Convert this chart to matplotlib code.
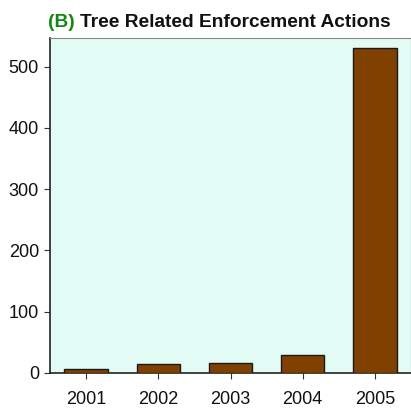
import matplotlib
matplotlib.use("Agg")
import matplotlib.pyplot as plt

years = ["2001", "2002", "2003", "2004", "2005"]
actions = [6.5, 15, 16, 30, 530]
yticks = [0, 100, 200, 300, 400, 500]

fig = plt.figure(figsize=(4.11, 4.12), dpi=100)
ax = fig.add_axes([0.1217, 0.0947, 0.8783, 0.8133])
ax.set_facecolor("#E2FCF5")
x = list(range(len(years)))
ax.bar(x, actions, width=0.6, color="#804000", edgecolor="#1a1a1a", linewidth=1.0, zorder=3)
ax.set_xlim(-0.5, 4.5)
ax.set_ylim(0, 547)
ax.set_xticks(x)
ax.set_xticklabels(years)
ax.set_yticks(yticks)
for lab in ax.get_xticklabels() + ax.get_yticklabels():
    lab.set_fontfamily("Liberation Sans")
    lab.set_fontsize(13)
    lab.set_color("#111111")
ax.tick_params(axis="both", direction="out", length=4, width=0.8, color="#333333")
ax.tick_params(axis="x", pad=9)
ax.tick_params(axis="y", pad=4)
for s in ["left", "bottom"]:
    ax.spines[s].set_color("#222222")
    ax.spines[s].set_linewidth(1.2)
ax.spines["top"].set_color("#888888")
ax.spines["right"].set_color("#888888")

fam = "Liberation Sans"
x0_px, x_end_px = 48, 396
size = 16.0
while True:
    t1 = fig.text(x0_px / 411, 0.945, "(B)", color="#118811", fontsize=size, fontweight="bold",
                  va="center", ha="left", family=fam)
    fig.canvas.draw()
    bb = t1.get_window_extent()
    t2 = fig.text((bb.x1 + 5) / 411, 0.945, "Tree Related Enforcement Actions", color="#111111",
                  fontsize=size, fontweight="bold", va="center", ha="left", family=fam)
    fig.canvas.draw()
    if t2.get_window_extent().x1 <= x_end_px or size < 8:
        break
    t1.remove()
    t2.remove()
    size -= 0.25

fig.savefig("out.png", dpi=100)
